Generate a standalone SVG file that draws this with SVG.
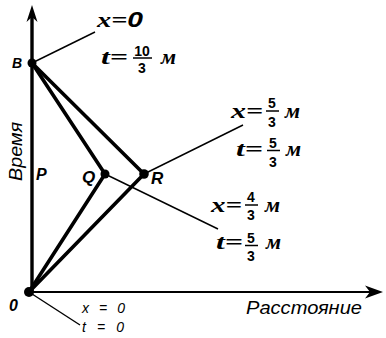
<svg xmlns="http://www.w3.org/2000/svg" width="386" height="338" viewBox="0 0 386 338">
<style>
.ax{stroke:#000;fill:none}
.thick{stroke:#000;stroke-width:3.6;fill:none;stroke-linecap:round}
.lead{stroke:#000;stroke-width:1.4;fill:none}
.f{font-family:"Liberation Serif",serif;font-weight:bold;font-style:italic;fill:#000;font-size:22px}
.lbl{font-family:"Liberation Sans",sans-serif;font-weight:bold;font-style:italic;fill:#000}
.num{font-family:"Liberation Sans",sans-serif;font-weight:bold;fill:#000;text-anchor:middle;font-size:14px}
.sm{font-family:"Liberation Sans",sans-serif;font-style:italic;fill:#000;font-size:14px}
.axl{font-family:"Liberation Sans",sans-serif;font-style:italic;fill:#000}
.bar{stroke:#000;stroke-width:1.5}
</style>
<rect width="386" height="338" fill="#fff"/>
<g id="axes">
<line class="ax" x1="32" y1="292" x2="32" y2="14" stroke-width="3.4"/>
<path d="M32,5 L26.5,22 L32,17 L37.5,22 Z" fill="#000"/>
<line class="ax" x1="29" y1="292" x2="374" y2="292" stroke-width="2.2"/>
<path d="M383,292 L365,285.5 L370,292 L365,298.5 Z" fill="#000"/>
<text class="axl" font-size="18" transform="translate(22,181) rotate(-90)" textLength="59" lengthAdjust="spacingAndGlyphs">Время</text>
<text class="axl" x="246" y="314" font-size="19" textLength="116" lengthAdjust="spacingAndGlyphs">Расстояние</text>
</g>
<g id="connectors">
<line class="thick" x1="32" y1="63" x2="144" y2="174"/>
<line class="thick" x1="32" y1="63" x2="105" y2="174"/>
<line class="thick" x1="29" y1="292" x2="105" y2="174"/>
<line class="thick" x1="29" y1="292" x2="144" y2="174"/>
<line class="lead" x1="32" y1="63" x2="95" y2="32"/>
<line class="lead" x1="144" y1="174" x2="243" y2="125"/>
<line class="lead" x1="105" y1="174" x2="218" y2="229"/>
<line class="lead" x1="29" y1="292" x2="80" y2="325"/>
</g>
<g id="node-B">
<circle cx="32" cy="63" r="4.5" fill="#000"/>
<text class="lbl" x="12" y="68" font-size="14">B</text>
<text class="f" x="97" y="27" textLength="46" lengthAdjust="spacingAndGlyphs">x=<tspan font-family="Liberation Sans">0</tspan></text>
<text class="f" x="101" y="64" textLength="27" lengthAdjust="spacingAndGlyphs">t=</text>
<text class="num" x="142" y="56">10</text>
<line class="bar" x1="133" y1="58" x2="152" y2="58"/>
<text class="num" x="142" y="73">3</text>
<text class="f" x="161" y="64">м</text>
</g>
<g id="node-P">
<text class="lbl" x="36" y="180" font-size="16">P</text>
</g>
<g id="node-Q">
<circle cx="105" cy="174" r="4.5" fill="#000"/>
<text class="lbl" x="82" y="183" font-size="17">Q</text>
<text class="f" x="211" y="212" textLength="31" lengthAdjust="spacingAndGlyphs">x=</text>
<text class="num" x="251" y="202">4</text>
<line class="bar" x1="245" y1="205" x2="258" y2="205"/>
<text class="num" x="251" y="220">3</text>
<text class="f" x="265" y="212">м</text>
<text class="f" x="216" y="249" textLength="27" lengthAdjust="spacingAndGlyphs">t=</text>
<text class="num" x="251" y="243">5</text>
<line class="bar" x1="245" y1="245.5" x2="258" y2="245.5"/>
<text class="num" x="251" y="261">3</text>
<text class="f" x="266" y="249">м</text>
</g>
<g id="node-R">
<circle cx="144" cy="174" r="4.8" fill="#000"/>
<text class="lbl" x="151" y="184" font-size="17">R</text>
<text class="f" x="231" y="118" textLength="32" lengthAdjust="spacingAndGlyphs">x=</text>
<text class="num" x="272" y="108">5</text>
<line class="bar" x1="266" y1="111" x2="279" y2="111"/>
<text class="num" x="272" y="127">3</text>
<text class="f" x="285" y="118">м</text>
<text class="f" x="236" y="156" textLength="27" lengthAdjust="spacingAndGlyphs">t=</text>
<text class="num" x="273" y="148">5</text>
<line class="bar" x1="267" y1="150.5" x2="280" y2="150.5"/>
<text class="num" x="273" y="167">3</text>
<text class="f" x="286" y="156">м</text>
</g>
<g id="node-O">
<circle cx="29" cy="292" r="5" fill="#000"/>
<text class="lbl" x="9" y="311" font-size="16">0</text>
<text class="sm" x="82" y="313" textLength="43" lengthAdjust="spacing">x = 0</text>
<text class="sm" x="82" y="332" textLength="42" lengthAdjust="spacing">t = 0</text>
</g>
</svg>
